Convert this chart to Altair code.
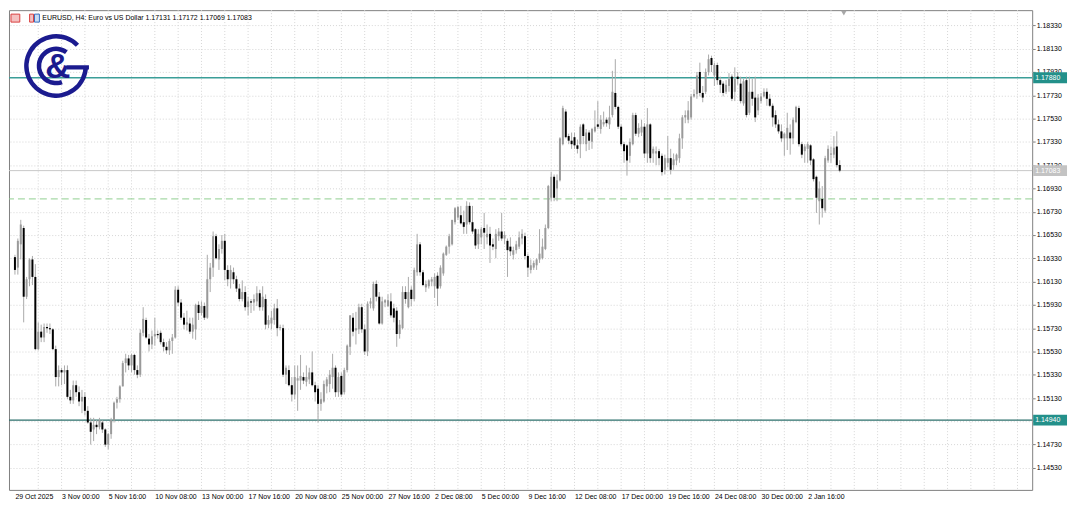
import json
import math
import altair as alt
import pandas as pd

# ---------------- data (EURUSD H4 candles) ----------------
OPEN = [1.1634, 1.1625, 1.1645, 1.1659, 1.1600, 1.1615, 1.1632, 1.1617, 1.1555, 1.1570,
        1.1565, 1.1574, 1.1573, 1.1572, 1.1555, 1.1531, 1.1537, 1.1535, 1.1537, 1.1514,
        1.1511, 1.1524, 1.1518, 1.1510, 1.1514, 1.1502, 1.1492, 1.1486, 1.1490, 1.1488,
        1.1492, 1.1486, 1.1473, 1.1482, 1.1494, 1.1509, 1.1512, 1.1523, 1.1543, 1.1547,
        1.1541, 1.1550, 1.1537, 1.1533, 1.1569, 1.1580, 1.1564, 1.1559, 1.1566, 1.1568,
        1.1569, 1.1561, 1.1557, 1.1554, 1.1562, 1.1565, 1.1606, 1.1595, 1.1582, 1.1576,
        1.1577, 1.1570, 1.1572, 1.1593, 1.1586, 1.1592, 1.1582, 1.1615, 1.1625, 1.1652,
        1.1632, 1.1641, 1.1648, 1.1623, 1.1615, 1.1621, 1.1615, 1.1607, 1.1598, 1.1604,
        1.1591, 1.1596, 1.1595, 1.1596, 1.1603, 1.1591, 1.1598, 1.1576, 1.1577, 1.1580,
        1.1590, 1.1573, 1.1573, 1.1533, 1.1537, 1.1524, 1.1516, 1.1528, 1.1528, 1.1531,
        1.1527, 1.1529, 1.1535, 1.1524, 1.1521, 1.1508, 1.1510, 1.1523, 1.1525, 1.1531,
        1.1539, 1.1518, 1.1532, 1.1518, 1.1537, 1.1557, 1.1582, 1.1571, 1.1572, 1.1591,
        1.1572, 1.1553, 1.1594, 1.1590, 1.1611, 1.1600, 1.1577, 1.1595, 1.1592, 1.1596,
        1.1590, 1.1588, 1.1568, 1.1573, 1.1604, 1.1591, 1.1606, 1.1598, 1.1621, 1.1645,
        1.1621, 1.1608, 1.1609, 1.1613, 1.1609, 1.1618, 1.1609, 1.1620, 1.1636, 1.1643,
        1.1645, 1.1664, 1.1668, 1.1670, 1.1664, 1.1662, 1.1678, 1.1664, 1.1658, 1.1645,
        1.1651, 1.1659, 1.1651, 1.1654, 1.1645, 1.1641, 1.1652, 1.1656, 1.1650, 1.1648,
        1.1643, 1.1636, 1.1640, 1.1643, 1.1650, 1.1652, 1.1635, 1.1623, 1.1625, 1.1627,
        1.1632, 1.1633, 1.1641, 1.1659, 1.1685, 1.1703, 1.1693, 1.1700, 1.1731, 1.1759,
        1.1738, 1.1734, 1.1737, 1.1730, 1.1731, 1.1748, 1.1731, 1.1741, 1.1733, 1.1742,
        1.1748, 1.1744, 1.1748, 1.1752, 1.1748, 1.1756, 1.1775, 1.1763, 1.1746, 1.1731,
        1.1730, 1.1721, 1.1731, 1.1756, 1.1740, 1.1741, 1.1746, 1.1723, 1.1748, 1.1723,
        1.1723, 1.1725, 1.1721, 1.1709, 1.1715, 1.1719, 1.1713, 1.1717, 1.1719, 1.1736,
        1.1754, 1.1752, 1.1754, 1.1772, 1.1774, 1.1793, 1.1775, 1.1776, 1.1793, 1.1805,
        1.1790, 1.1799, 1.1786, 1.1783, 1.1776, 1.1781, 1.1789, 1.1776, 1.1789, 1.1783,
        1.1766, 1.1786, 1.1758, 1.1776, 1.1771, 1.1760, 1.1768, 1.1772, 1.1776, 1.1770,
        1.1764, 1.1756, 1.1748, 1.1742, 1.1736, 1.1736, 1.1741, 1.1736, 1.1750, 1.1762,
        1.1731, 1.1725, 1.1727, 1.1730, 1.1718, 1.1703, 1.1682, 1.1684, 1.1674, 1.1717,
        1.1722, 1.1722, 1.1729, 1.17131]

HIGH = [1.1636, 1.1650, 1.1666, 1.1661, 1.1617, 1.1633, 1.1635, 1.1628, 1.1578, 1.1576,
        1.1577, 1.1577, 1.1577, 1.1573, 1.1558, 1.1541, 1.1539, 1.1541, 1.1541, 1.1520,
        1.1528, 1.1528, 1.1523, 1.1520, 1.1518, 1.1506, 1.1496, 1.1496, 1.1494, 1.1496,
        1.1494, 1.1487, 1.1483, 1.1496, 1.1510, 1.1514, 1.1524, 1.1545, 1.1551, 1.1550,
        1.1551, 1.1551, 1.1541, 1.1572, 1.1591, 1.1582, 1.1568, 1.1571, 1.1582, 1.1571,
        1.1571, 1.1564, 1.1561, 1.1564, 1.1568, 1.1609, 1.1609, 1.1598, 1.1586, 1.1588,
        1.1582, 1.1582, 1.1594, 1.1596, 1.1596, 1.1595, 1.1636, 1.1629, 1.1656, 1.1654,
        1.1645, 1.1653, 1.1654, 1.1627, 1.1627, 1.1625, 1.1618, 1.1611, 1.1614, 1.1609,
        1.1600, 1.1598, 1.1602, 1.1609, 1.1606, 1.1609, 1.1602, 1.1584, 1.1588, 1.1594,
        1.1598, 1.1576, 1.1576, 1.1541, 1.1541, 1.1531, 1.1541, 1.1541, 1.1550, 1.1535,
        1.1541, 1.1539, 1.1553, 1.1527, 1.1524, 1.1518, 1.1528, 1.1531, 1.1537, 1.1551,
        1.1541, 1.1535, 1.1535, 1.1539, 1.1559, 1.1584, 1.1586, 1.1587, 1.1594, 1.1594,
        1.1576, 1.1596, 1.1599, 1.1613, 1.1614, 1.1604, 1.1600, 1.1598, 1.1602, 1.1603,
        1.1594, 1.1591, 1.1580, 1.1609, 1.1609, 1.1617, 1.1609, 1.1625, 1.1654, 1.1647,
        1.1623, 1.1614, 1.1615, 1.1617, 1.1620, 1.1621, 1.1627, 1.1638, 1.1644, 1.1654,
        1.1666, 1.1677, 1.1678, 1.1678, 1.1674, 1.1682, 1.1681, 1.1678, 1.1659, 1.1658,
        1.1660, 1.1672, 1.1662, 1.1660, 1.1650, 1.1658, 1.1659, 1.1672, 1.1656, 1.1650,
        1.1651, 1.1643, 1.1648, 1.1656, 1.1658, 1.1655, 1.1637, 1.1632, 1.1631, 1.1633,
        1.1658, 1.1650, 1.1662, 1.1696, 1.1707, 1.1705, 1.1705, 1.1737, 1.1764, 1.1761,
        1.1740, 1.1741, 1.1741, 1.1735, 1.1748, 1.1749, 1.1744, 1.1743, 1.1745, 1.1760,
        1.1768, 1.1756, 1.1759, 1.1754, 1.1764, 1.1794, 1.1804, 1.1764, 1.1748, 1.1733,
        1.1731, 1.1736, 1.1758, 1.1758, 1.1749, 1.1752, 1.1749, 1.1762, 1.1749, 1.1729,
        1.1729, 1.1727, 1.1723, 1.1722, 1.1738, 1.1727, 1.1723, 1.1723, 1.1740, 1.1756,
        1.1760, 1.1768, 1.1774, 1.1778, 1.1793, 1.1801, 1.1781, 1.1796, 1.1808, 1.1807,
        1.1801, 1.1801, 1.1789, 1.1785, 1.1786, 1.1792, 1.1791, 1.1797, 1.1793, 1.1789,
        1.1787, 1.1789, 1.1789, 1.1787, 1.1789, 1.1774, 1.1775, 1.1779, 1.1779, 1.1774,
        1.1766, 1.1760, 1.1752, 1.1748, 1.1741, 1.1758, 1.1748, 1.1754, 1.1764, 1.1764,
        1.1733, 1.1731, 1.1733, 1.1731, 1.1719, 1.1704, 1.1699, 1.1695, 1.1721, 1.1730,
        1.1729, 1.1738, 1.1742, 1.17172]

LOW = [1.1619, 1.1619, 1.1632, 1.1578, 1.1598, 1.1609, 1.1610, 1.1554, 1.1554, 1.1561,
       1.1561, 1.1569, 1.1568, 1.1554, 1.1523, 1.1523, 1.1524, 1.1525, 1.1512, 1.1508,
       1.1508, 1.1514, 1.1506, 1.1500, 1.1498, 1.1491, 1.1473, 1.1476, 1.1482, 1.1486,
       1.1483, 1.1471, 1.1469, 1.1478, 1.1492, 1.1504, 1.1509, 1.1523, 1.1535, 1.1537,
       1.1535, 1.1533, 1.1530, 1.1531, 1.1566, 1.1564, 1.1553, 1.1555, 1.1558, 1.1564,
       1.1559, 1.1553, 1.1551, 1.1550, 1.1551, 1.1564, 1.1592, 1.1580, 1.1572, 1.1571,
       1.1568, 1.1564, 1.1563, 1.1580, 1.1584, 1.1580, 1.1581, 1.1604, 1.1617, 1.1632,
       1.1623, 1.1637, 1.1614, 1.1609, 1.1607, 1.1611, 1.1604, 1.1596, 1.1596, 1.1588,
       1.1584, 1.1586, 1.1588, 1.1592, 1.1588, 1.1588, 1.1572, 1.1573, 1.1572, 1.1576,
       1.1566, 1.1571, 1.1531, 1.1525, 1.1523, 1.1510, 1.1512, 1.1502, 1.1520, 1.1525,
       1.1523, 1.1525, 1.1523, 1.1510, 1.1492, 1.1502, 1.1509, 1.1517, 1.1518, 1.1521,
       1.1514, 1.1514, 1.1514, 1.1516, 1.1535, 1.1550, 1.1566, 1.1559, 1.1568, 1.1569,
       1.1550, 1.1549, 1.1590, 1.1588, 1.1596, 1.1576, 1.1576, 1.1591, 1.1591, 1.1582,
       1.1578, 1.1557, 1.1564, 1.1572, 1.1594, 1.1590, 1.1592, 1.1596, 1.1618, 1.1618,
       1.1609, 1.1604, 1.1607, 1.1609, 1.1599, 1.1592, 1.1607, 1.1618, 1.1635, 1.1637,
       1.1644, 1.1662, 1.1666, 1.1662, 1.1654, 1.1654, 1.1662, 1.1654, 1.1641, 1.1641,
       1.1645, 1.1641, 1.1645, 1.1629, 1.1640, 1.1633, 1.1648, 1.1648, 1.1645, 1.1617,
       1.1635, 1.1632, 1.1637, 1.1641, 1.1645, 1.1632, 1.1617, 1.1620, 1.1623, 1.1623,
       1.1629, 1.1632, 1.1640, 1.1658, 1.1682, 1.1682, 1.1682, 1.1699, 1.1730, 1.1736,
       1.1731, 1.1727, 1.1727, 1.1723, 1.1719, 1.1731, 1.1725, 1.1726, 1.1727, 1.1741,
       1.1744, 1.1740, 1.1746, 1.1746, 1.1744, 1.1754, 1.1761, 1.1744, 1.1729, 1.1715,
       1.1704, 1.1715, 1.1730, 1.1738, 1.1737, 1.1738, 1.1719, 1.1715, 1.1715, 1.1715,
       1.1713, 1.1713, 1.1704, 1.1705, 1.1711, 1.1705, 1.1709, 1.1713, 1.1715, 1.1727,
       1.1749, 1.1749, 1.1752, 1.1771, 1.1770, 1.1772, 1.1767, 1.1774, 1.1790, 1.1793,
       1.1781, 1.1782, 1.1775, 1.1772, 1.1774, 1.1776, 1.1768, 1.1768, 1.1782, 1.1766,
       1.1764, 1.1754, 1.1756, 1.1764, 1.1750, 1.1756, 1.1766, 1.1771, 1.1764, 1.1763,
       1.1746, 1.1745, 1.1740, 1.1733, 1.1721, 1.1726, 1.1722, 1.1731, 1.1749, 1.1729,
       1.1719, 1.1715, 1.1715, 1.1713, 1.1699, 1.1672, 1.1662, 1.1668, 1.1672, 1.1715,
       1.1715, 1.1719, 1.1711, 1.17069]

CLOSE = [1.1623, 1.1648, 1.1662, 1.1600, 1.1615, 1.1632, 1.1617, 1.1555, 1.1570, 1.1565,
         1.1574, 1.1573, 1.1572, 1.1555, 1.1531, 1.1537, 1.1535, 1.1537, 1.1514, 1.1511,
         1.1524, 1.1518, 1.1510, 1.1514, 1.1502, 1.1492, 1.1484, 1.1490, 1.1488, 1.1494,
         1.1486, 1.1473, 1.1482, 1.1494, 1.1509, 1.1512, 1.1523, 1.1543, 1.1547, 1.1541,
         1.1550, 1.1537, 1.1533, 1.1569, 1.1581, 1.1565, 1.1559, 1.1566, 1.1568, 1.1567,
         1.1561, 1.1557, 1.1554, 1.1562, 1.1565, 1.1606, 1.1595, 1.1582, 1.1576, 1.1578,
         1.1570, 1.1576, 1.1593, 1.1586, 1.1592, 1.1582, 1.1615, 1.1625, 1.1652, 1.1633,
         1.1641, 1.1648, 1.1623, 1.1615, 1.1623, 1.1615, 1.1607, 1.1598, 1.1604, 1.1591,
         1.1596, 1.1595, 1.1598, 1.1603, 1.1591, 1.1600, 1.1576, 1.1580, 1.1582, 1.1590,
         1.1573, 1.1574, 1.1533, 1.1539, 1.1524, 1.1516, 1.1531, 1.1530, 1.1532, 1.1528,
         1.1531, 1.1535, 1.1524, 1.1518, 1.1508, 1.1512, 1.1525, 1.1529, 1.1533, 1.1539,
         1.1518, 1.1531, 1.1516, 1.1537, 1.1558, 1.1584, 1.1570, 1.1573, 1.1591, 1.1572,
         1.1553, 1.1594, 1.1596, 1.1611, 1.1600, 1.1577, 1.1596, 1.1597, 1.1597, 1.1584,
         1.1582, 1.1568, 1.1576, 1.1604, 1.1598, 1.1604, 1.1598, 1.1623, 1.1645, 1.1621,
         1.1610, 1.1611, 1.1614, 1.1615, 1.1617, 1.1607, 1.1625, 1.1637, 1.1643, 1.1652,
         1.1666, 1.1676, 1.1677, 1.1663, 1.1660, 1.1678, 1.1664, 1.1656, 1.1644, 1.1654,
         1.1658, 1.1655, 1.1654, 1.1644, 1.1643, 1.1654, 1.1656, 1.1650, 1.1653, 1.1640,
         1.1639, 1.1640, 1.1645, 1.1651, 1.1654, 1.1635, 1.1625, 1.1627, 1.1629, 1.1632,
         1.1637, 1.1643, 1.1659, 1.1695, 1.1703, 1.1685, 1.1700, 1.1736, 1.1762, 1.1737,
         1.1734, 1.1731, 1.1730, 1.1727, 1.1746, 1.1738, 1.1741, 1.1734, 1.1744, 1.1746,
         1.1746, 1.1752, 1.1750, 1.1749, 1.1754, 1.1776, 1.1763, 1.1746, 1.1731, 1.1725,
         1.1717, 1.1733, 1.1756, 1.1740, 1.1745, 1.1746, 1.1723, 1.1748, 1.1719, 1.1727,
         1.1725, 1.1719, 1.1707, 1.1719, 1.1719, 1.1709, 1.1718, 1.1722, 1.1736, 1.1754,
         1.1756, 1.1760, 1.1772, 1.1774, 1.1790, 1.1775, 1.1771, 1.1793, 1.1804, 1.1799,
         1.1799, 1.1786, 1.1782, 1.1775, 1.1782, 1.1787, 1.1770, 1.1787, 1.1787, 1.1768,
         1.1785, 1.1756, 1.1776, 1.1770, 1.1754, 1.1771, 1.1772, 1.1776, 1.1770, 1.1764,
         1.1754, 1.1748, 1.1742, 1.1736, 1.1740, 1.1745, 1.1736, 1.1752, 1.1763, 1.1731,
         1.1722, 1.1729, 1.1731, 1.1717, 1.1701, 1.1685, 1.1693, 1.1676, 1.1719, 1.1727,
         1.1723, 1.1728, 1.1713, 1.17083]

TICK_IDX = [0, 16, 32, 48, 64, 80, 96, 112, 128, 144, 160, 176, 192, 208, 224, 240, 256, 272]
TICK_LABELS = ["29 Oct 2025", "3 Nov 00:00", "5 Nov 16:00", "10 Nov 08:00", "13 Nov 00:00",
               "17 Nov 16:00", "20 Nov 08:00", "25 Nov 00:00", "27 Nov 16:00", "2 Dec 08:00",
               "5 Dec 00:00", "9 Dec 16:00", "12 Dec 08:00", "17 Dec 00:00", "19 Dec 16:00",
               "24 Dec 08:00", "30 Dec 00:00", "2 Jan 16:00"]
PRICE_TICKS = [1.14530, 1.14730, 1.14930, 1.15130, 1.15330, 1.15530, 1.15730, 1.15930,
               1.16130, 1.16330, 1.16530, 1.16730, 1.16930, 1.17130, 1.17330, 1.17530,
               1.17730, 1.17930, 1.18130, 1.18330]
RESISTANCE = 1.17880
SUPPORT = 1.14940
DASHED_LEVEL = 1.16840
LAST_PRICE = 1.17083
TITLE = "EURUSD, H4:  Euro vs US Dollar  1.17131 1.17172 1.17069 1.17083"

# ---------------- layout ----------------
W, H = 1028, 482
SX, SY = W / 1043.0, H / 503.0
X_DOMAIN = [-0.333, 347.33]
Y_DOMAIN = [1.14341, 1.18461]
FONT = "Liberation Sans"
NAVY = "#1b1b8f"

xs = alt.Scale(domain=X_DOMAIN, nice=False, zero=False)
ys = alt.Scale(domain=Y_DOMAIN, nice=False, zero=False)

label_expr = f"{json.dumps(TICK_LABELS)}[indexof({json.dumps(TICK_IDX)}, datum.value)]"
x_axis = alt.Axis(values=TICK_IDX, labelExpr=label_expr, orient="bottom", grid=False,
                  domain=False, ticks=False, labelAlign="left", labelBaseline="top",
                  labelPadding=3, labelFontSize=7, labelFont=FONT, labelColor="#000000",
                  labelFlush=False, labelOverlap=False, title=None)
y_axis = alt.Axis(values=PRICE_TICKS, format=".5f", orient="right", grid=True,
                  gridColor="#d6d6d6", gridDash=[1, 2], gridWidth=1, domain=False,
                  ticks=True, tickSize=3, tickColor="#808080", labelPadding=1,
                  labelFontSize=7, labelFont=FONT, labelColor="#000000",
                  labelBaseline="middle", labelFlush=False, labelOverlap=False, title=None)

XI = alt.X("i:Q", scale=xs, axis=x_axis)

n = len(OPEN)
candles = pd.DataFrame({"i": list(range(n)), "o": OPEN, "h": HIGH, "l": LOW, "c": CLOSE})
candles["dir"] = ["up" if c >= o else "down" for o, c in zip(OPEN, CLOSE)]

one = pd.DataFrame({"k": [0]})

vgrid = alt.Chart(pd.DataFrame({"i": list(range(8, 348, 8))})).mark_rule(
    color="#d6d6d6", strokeDash=[1, 2], strokeWidth=1
).encode(x=XI)

wicks = alt.Chart(candles).mark_rule(color="#a9a9a9", strokeWidth=1).encode(
    x=XI,
    y=alt.Y("l:Q", scale=ys, axis=y_axis),
    y2="h:Q",
)

bodies = alt.Chart(candles).mark_bar(size=2).encode(
    x=XI,
    y=alt.Y("o:Q", scale=ys, axis=y_axis),
    y2="c:Q",
    color=alt.Color("dir:N", scale=alt.Scale(domain=["up", "down"], range=["#9a9a9a", "#000000"]),
                    legend=None),
)


def hline(value, color, width, dash=None):
    kw = dict(color=color, strokeWidth=width)
    if dash:
        kw["strokeDash"] = dash
    return alt.Chart(pd.DataFrame({"l": [value]})).mark_rule(**kw).encode(
        y=alt.Y("l:Q", scale=ys, axis=y_axis))


lines = [
    hline(LAST_PRICE, "#c8c8c8", 1),
    hline(DASHED_LEVEL, "#8fcf8f", 1, [7, 4]),
    hline(RESISTANCE, "#3b9e98", 1.6),
    hline(SUPPORT, "#2b6f6b", 1.4),
]

boxes_df = pd.DataFrame({
    "l": [RESISTANCE, LAST_PRICE, SUPPORT],
    "t": [f"{RESISTANCE:.5f}", f"{LAST_PRICE:.5f}", f"{SUPPORT:.5f}"],
    "fill": ["#23908a", "#c3c3c3", "#23908a"],
})
boxes = alt.Chart(boxes_df).transform_calculate(
    top="datum.l + 0.00047", bot="datum.l - 0.00047"
).mark_rect().encode(
    x=alt.value(W + 1), x2=alt.value(W + 35),
    y=alt.Y("top:Q", scale=ys, axis=y_axis), y2="bot:Q",
    color=alt.Color("fill:N", scale=None),
)
box_text = alt.Chart(boxes_df).mark_text(
    align="left", baseline="middle", color="#ffffff", fontSize=7, font=FONT
).encode(x=alt.value(W + 3), y=alt.Y("l:Q", scale=ys, axis=y_axis), text="t:N")

title = alt.Chart(pd.DataFrame({"t": [TITLE]})).mark_text(
    align="left", baseline="middle", fontSize=7, font=FONT, color="#000000"
).encode(x=alt.value(34 * SX), y=alt.value(8 * SY), text="t:N")

icon1 = alt.Chart(one).mark_rect(fill="#f4c0c0", stroke="#d94040", strokeWidth=1).encode(
    x=alt.value(2 * SX), x2=alt.value(11 * SX), y=alt.value(4), y2=alt.value(12))
icon2a = alt.Chart(one).mark_rect(fill="#f4c0c0", stroke="#d94040", strokeWidth=1).encode(
    x=alt.value(21 * SX), x2=alt.value(25 * SX), y=alt.value(4), y2=alt.value(12))
icon2b = alt.Chart(one).mark_rect(fill="#c8dcf4", stroke="#3a70c0", strokeWidth=1).encode(
    x=alt.value(26 * SX), x2=alt.value(31 * SX), y=alt.value(4), y2=alt.value(12))

marker = alt.Chart(one).mark_point(shape="triangle-down", filled=True, color="#a8a8a8",
                                   size=30, opacity=1).encode(
    x=alt.value(851 * SX), y=alt.value(3))


def arc(cx, cy, r_in, r_out, a0, a1):
    return alt.Chart(one).mark_arc(
        theta=math.radians(a0), theta2=math.radians(a1),
        radius=r_out * SY, radius2=r_in * SY, color=NAVY
    ).encode(x=alt.value(cx * SX), y=alt.value(cy * SY))


logo = [
    arc(48, 58.5, 28.8, 33.5, 90, 406),
    arc(48, 58.5, 15.6, 20.3, 160, 397),
    alt.Chart(one).mark_rect(color=NAVY).encode(
        x=alt.value(58.5 * SX), x2=alt.value(81.5 * SX),
        y=alt.value(57.7 * SY), y2=alt.value(62.3 * SY)),
    alt.Chart(pd.DataFrame({"t": ["&"]})).mark_text(
        fontSize=35, fontWeight="bold", font=FONT, color=NAVY,
        align="center", baseline="middle"
    ).encode(x=alt.value(49.7 * SX), y=alt.value(60 * SY), text="t:N"),
]

chart = alt.layer(
    vgrid, *lines, wicks, bodies, boxes, box_text, title, icon1, icon2a, icon2b, marker, *logo
).properties(
    width=W, height=H,
    padding={"left": 0, "top": 0, "right": 4, "bottom": 2},
).configure_view(stroke="#808080", strokeWidth=1)

chart.save("out.html", embed_options={"renderer": "svg", "actions": False})
